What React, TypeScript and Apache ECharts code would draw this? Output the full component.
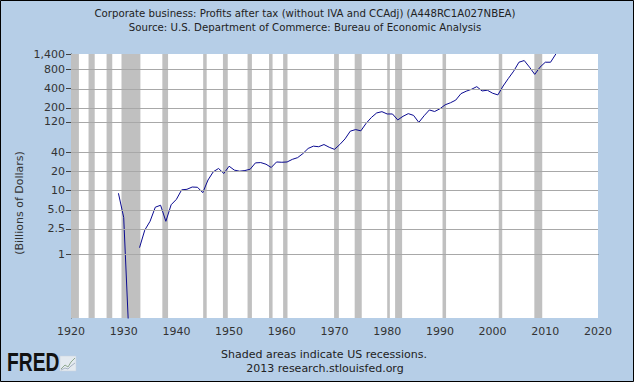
import React, { useEffect, useRef } from "react";
import * as echarts from "echarts";

const titleLine1 = "Corporate business: Profits after tax (without IVA and CCAdj) (A448RC1A027NBEA)";
const titleLine2 = "Source: U.S. Department of Commerce: Bureau of Economic Analysis";
const footer1 = "Shaded areas indicate US recessions.";
const footer2 = "2013 research.stlouisfed.org";
const yAxisName = "(Billions of Dollars)";

const years = [
  1929, 1930, 1931, 1932, 1933, 1934, 1935, 1936, 1937, 1938, 1939,
  1940, 1941, 1942, 1943, 1944, 1945, 1946, 1947, 1948, 1949,
  1950, 1951, 1952, 1953, 1954, 1955, 1956, 1957, 1958, 1959,
  1960, 1961, 1962, 1963, 1964, 1965, 1966, 1967, 1968, 1969,
  1970, 1971, 1972, 1973, 1974, 1975, 1976, 1977, 1978, 1979,
  1980, 1981, 1982, 1983, 1984, 1985, 1986, 1987, 1988, 1989,
  1990, 1991, 1992, 1993, 1994, 1995, 1996, 1997, 1998, 1999,
  2000, 2001, 2002, 2003, 2004, 2005, 2006, 2007, 2008, 2009,
  2010, 2011, 2012,
];

// Billions of dollars; negative years cannot be shown on the log scale
const profits: (number | null)[] = [
  9.1, 3.8, -0.4, null, 1.27, 2.4, 3.3, 5.5, 5.9, 3.3, 6.0,
  7.3, 10.3, 10.5, 11.4, 11.3, 9.3, 14.7, 19.8, 22.3, 18.6,
  24.2, 21, 20.2, 20.7, 21.7, 27.3, 27.6, 26, 23.1, 28.2,
  27.9, 28.2, 31, 33, 38.2, 46, 50, 49, 53, 48,
  44.5, 53, 65, 86, 91, 87, 114, 141, 166, 174,
  160, 160, 129, 147, 162, 152, 118, 150, 185, 175,
  193, 223, 240, 264, 334, 365, 391, 430, 368, 378,
  339, 319, 440, 580, 753, 1040, 1105, 870, 670, 870,
  1040, 1040, 1400,
];

const yTicks = [1, 2.5, 5, 10, 20, 40, 120, 200, 400, 800, 1400];
const yTickLabels = ["1", "2.5", "5.0", "10", "20", "40", "120", "200", "400", "800", "1,400"];

const recessions: [number, number][] = [
  [1920.0, 1921.5], [1923.33, 1924.5], [1926.75, 1927.83], [1929.58, 1933.17],
  [1937.33, 1938.42], [1945.08, 1945.75], [1948.83, 1949.75], [1953.5, 1954.33],
  [1957.58, 1958.25], [1960.25, 1961.08], [1969.92, 1970.83], [1973.83, 1975.17],
  [1980.0, 1980.5], [1981.5, 1982.83], [1990.5, 1991.17], [2001.17, 2001.83],
  [2007.92, 2009.42],
];

const FONT = "DejaVu Sans";

export default function App() {
  const ref = useRef<HTMLDivElement>(null);

  useEffect(() => {
    document.body.style.margin = "0";
    if (!ref.current) return;
    const chart = echarts.init(ref.current, null, { renderer: "svg" });

    const yMin = -1;
    const yMax = Math.log10(1400);
    const floor = -1.3;
    const lineData = years.map((yr, i) => {
      const v = profits[i];
      if (v === null) return [yr, null];
      return [yr, v <= 0 ? floor : Math.log10(v)];
    });
    const tickLog = yTicks.map((t) => Math.log10(t));
    const labelMap: Record<string, string> = {};
    tickLog.forEach((t, i) => (labelMap[t.toFixed(4)] = yTickLabels[i]));

    chart.setOption({
      animation: false,
      backgroundColor: "#B6CEE7",
      grid: {
        left: 71,
        top: 54,
        width: 527,
        height: 264,
        show: true,
        backgroundColor: "#FFFFFF",
        borderWidth: 0,
      },
      xAxis: {
        type: "value",
        min: 1920,
        max: 2020,
        interval: 10,
        axisLine: { show: true, lineStyle: { color: "#404040", width: 1 } },
        axisTick: { show: false },
        splitLine: { show: false },
        axisLabel: {
          color: "#333333",
          fontFamily: FONT,
          fontSize: 11,
          margin: 8,
          showMinLabel: true,
          showMaxLabel: true,
          formatter: (v: number) => String(v),
        },
      },
      yAxis: {
        type: "value",
        min: yMin,
        max: yMax,
        axisLine: { show: true, lineStyle: { color: "#404040", width: 1 } },
        axisTick: {
          show: true,
          customValues: tickLog,
          length: 5,
          lineStyle: { color: "#404040" },
        },
        splitLine: { show: false },
        axisLabel: {
          customValues: tickLog,
          color: "#333333",
          fontFamily: FONT,
          fontSize: 11,
          margin: 6,
          formatter: (v: number) => labelMap[Number(v).toFixed(4)] ?? "",
        },
      },
      series: [
        {
          type: "line",
          data: [],
          z: 1,
          silent: true,
          markLine: {
            silent: true,
            symbol: "none",
            label: { show: false },
            lineStyle: { color: "#A8A8A8", width: 1, type: "solid" },
            emphasis: { disabled: true },
            data: tickLog.map((t) => ({ yAxis: t })),
          },
        },
        {
          type: "line",
          data: [],
          z: 2,
          silent: true,
          markArea: {
            silent: true,
            itemStyle: { color: "#C0C0C0", opacity: 1 },
            emphasis: { disabled: true },
            data: recessions.map(([a, b]) => [{ xAxis: a }, { xAxis: b }]),
          },
        },
        {
          type: "line",
          data: lineData,
          z: 3,
          showSymbol: false,
          symbol: "none",
          connectNulls: false,
          clip: true,
          silent: true,
          lineStyle: { color: "#0A0A90", width: 1 },
        },
      ],
      graphic: [
        {
          type: "rect",
          shape: { x: 0.5, y: 0.5, width: 633, height: 381 },
          style: { fill: "none", stroke: "#000000", lineWidth: 1 },
          silent: true,
          z: 100,
        },
        {
          type: "text",
          x: 305,
          y: 13,
          style: {
            text: titleLine1,
            fontFamily: FONT,
            fontSize: 10.2,
            fill: "#222222",
            textAlign: "center",
            textVerticalAlign: "middle",
          },
        },
        {
          type: "text",
          x: 305,
          y: 27,
          style: {
            text: titleLine2,
            fontFamily: FONT,
            fontSize: 10.2,
            fill: "#222222",
            textAlign: "center",
            textVerticalAlign: "middle",
          },
        },
        {
          type: "text",
          x: 19,
          y: 203,
          rotation: Math.PI / 2,
          style: {
            text: yAxisName,
            fontFamily: FONT,
            fontSize: 11,
            fill: "#333333",
            textAlign: "center",
            textVerticalAlign: "middle",
          },
        },
        {
          type: "text",
          x: 324,
          y: 354,
          style: {
            text: footer1,
            fontFamily: FONT,
            fontSize: 11,
            fill: "#222222",
            textAlign: "center",
            textVerticalAlign: "middle",
          },
        },
        {
          type: "text",
          x: 325,
          y: 368,
          style: {
            text: footer2,
            fontFamily: FONT,
            fontSize: 11,
            fill: "#222222",
            textAlign: "center",
            textVerticalAlign: "middle",
          },
        },
        {
          type: "group",
          x: 7,
          y: 362,
          scaleX: 0.74,
          children: [
            {
              type: "text",
              x: 0,
              y: 0,
              style: {
                text: "FRED",
                fontFamily: "Liberation Sans",
                fontWeight: "bold",
                fontSize: 26,
                fill: "#111111",
                textAlign: "left",
                textVerticalAlign: "middle",
              },
            },
          ],
        },
        {
          type: "rect",
          shape: { x: 60, y: 356, width: 16, height: 15 },
          style: { fill: "#E4EAF0", stroke: "#C8D2DC", lineWidth: 0.5 },
        },
        {
          type: "polyline",
          shape: { points: [[61, 369], [65, 365], [68, 367], [71, 362], [75, 358]] },
          style: { stroke: "#8FA88F", lineWidth: 1, fill: "none" },
        },
        {
          type: "polyline",
          shape: { points: [[61, 370], [65, 368], [68, 369], [71, 366], [75, 363]] },
          style: { stroke: "#A8B4C4", lineWidth: 1, fill: "none" },
        },
      ],
    });

    return () => chart.dispose();
  }, []);

  return <div ref={ref} style={{ width: 634, height: 382 }} />;
}
